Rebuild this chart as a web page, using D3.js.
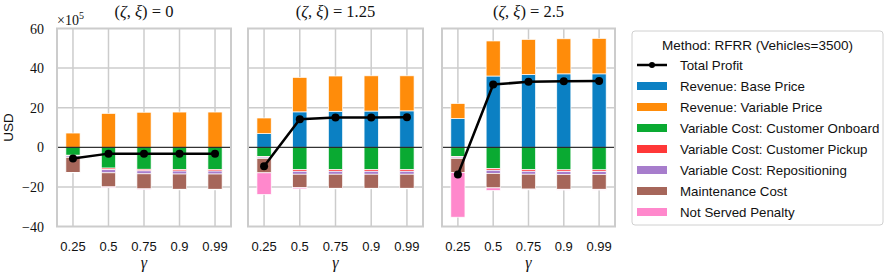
<!DOCTYPE html>
<html>
<head>
<meta charset="utf-8">
<script src="https://cdn.jsdelivr.net/npm/d3@7"></script>
<style>
  body { margin: 0; background: #fff; }
  svg text { fill: #111; }
</style>
</head>
<body>
<div id="chart"></div>
<script>
// values in units of 1e5 USD
const gammas = ["0.25", "0.5", "0.75", "0.9", "0.99"];
const panelTitles = ["0", "1.25", "2.5"];

const basePrice = [
  [0, 0, 0, 0, 0],
  [6.9, 17.9, 18.2, 18.3, 18.4],
  [14.5, 36.0, 36.8, 37.1, 37.1]
];
const variablePrice = [
  [7.2, 17.1, 17.7, 17.8, 17.8],
  [7.9, 17.4, 17.8, 17.8, 17.7],
  [7.6, 17.7, 17.7, 17.7, 17.9]
];
const costOnboard = [
  [4.0, 10.5, 11.1, 11.2, 11.2],
  [4.6, 11.3, 11.3, 11.3, 11.3],
  [4.6, 10.8, 11.3, 11.4, 11.4]
];
const costPickup = [
  [0.4, 0.8, 0.8, 0.8, 0.8],
  [0.4, 0.8, 0.8, 0.8, 0.8],
  [0.4, 0.8, 0.8, 0.8, 0.8]
];
const costRepositioning = [
  [0.7, 1.6, 1.5, 1.5, 1.5],
  [0.6, 1.5, 1.5, 1.5, 1.5],
  [0.6, 1.6, 1.5, 1.5, 1.5]
];
const maintenance = [
  [7.6, 7.1, 7.6, 7.7, 7.7],
  [7.3, 6.8, 7.1, 7.1, 7.1],
  [7.1, 7.3, 7.5, 7.5, 7.5]
];
const notServed = [
  [0.2, 0.3, 0.3, 0.3, 0.3],
  [10.9, 0.6, 0.3, 0.3, 0.3],
  [22.6, 1.3, 0.4, 0.4, 0.4]
];
const totalProfit = [
  [-5.6, -3.2, -3.2, -3.2, -3.2],
  [-9.6, 14.2, 15.0, 15.1, 15.2],
  [-13.7, 31.7, 33.1, 33.4, 33.5]
];
const yTicks = [60, 40, 20, 0, -20, -40];

const positiveSeries = [
  { name: "Revenue: Base Price", values: basePrice, color: "#0b80c3" },
  { name: "Revenue: Variable Price", values: variablePrice, color: "#ff8c0a" }
];
const negativeSeries = [
  { name: "Variable Cost: Customer Onboard", values: costOnboard, color: "#0aaa32" },
  { name: "Variable Cost: Customer Pickup", values: costPickup, color: "#ff3838" },
  { name: "Variable Cost: Repositioning", values: costRepositioning, color: "#a77dcc" },
  { name: "Maintenance Cost", values: maintenance, color: "#a6665a" },
  { name: "Not Served Penalty", values: notServed, color: "#ff88cc" }
];

const serif = "'Liberation Serif', 'DejaVu Serif', serif";
const sans = "'Liberation Sans', Arial, sans-serif";
const gridColor = "#cccccc";

const width = 886, height = 272;
const svg = d3.select("#chart").append("svg")
  .attr("width", width)
  .attr("height", height);

const panelX = [[57, 231], [248, 423], [442, 615]];
const y = d3.scaleLinear().domain([-40, 60]).range([226.5, 28.5]);

panelX.forEach(function(px, p) {
  const x = d3.scaleLinear().domain([-0.45, 4.45]).range(px);
  const barW = x(0.4) - x(0);
  const g = svg.append("g");

  // grid
  g.selectAll(".vgrid").data(gammas).enter().append("line")
    .attr("x1", (d, i) => x(i)).attr("x2", (d, i) => x(i))
    .attr("y1", y(60)).attr("y2", y(-40))
    .attr("stroke", gridColor).attr("stroke-width", 1.5);
  g.selectAll(".hgrid").data([40, 20, -20]).enter().append("line")
    .attr("x1", px[0]).attr("x2", px[1])
    .attr("y1", d => y(d)).attr("y2", d => y(d))
    .attr("stroke", gridColor).attr("stroke-width", 1.5);

  // stacked bars
  gammas.forEach(function(gm, i) {
    let top = 0;
    positiveSeries.forEach(function(s) {
      const v = s.values[p][i];
      if (v > 0) {
        g.append("rect")
          .attr("x", x(i) - barW / 2).attr("width", barW)
          .attr("y", y(top + v)).attr("height", y(top) - y(top + v))
          .attr("fill", s.color).attr("stroke", "#fff").attr("stroke-width", 0.7);
      }
      top += v;
    });
    let bottom = 0;
    negativeSeries.forEach(function(s) {
      const v = s.values[p][i];
      g.append("rect")
        .attr("x", x(i) - barW / 2).attr("width", barW)
        .attr("y", y(bottom)).attr("height", y(bottom - v) - y(bottom))
        .attr("fill", s.color).attr("stroke", "#fff").attr("stroke-width", 0.7);
      bottom -= v;
    });
  });

  // zero line
  g.append("line")
    .attr("x1", px[0]).attr("x2", px[1])
    .attr("y1", y(0)).attr("y2", y(0))
    .attr("stroke", "#000").attr("stroke-width", 1);

  // profit line
  const line = d3.line().x((d, i) => x(i)).y(d => y(d));
  g.append("path")
    .attr("d", line(totalProfit[p]))
    .attr("fill", "none").attr("stroke", "#000").attr("stroke-width", 2.5);
  g.selectAll(".dot").data(totalProfit[p]).enter().append("circle")
    .attr("cx", (d, i) => x(i)).attr("cy", d => y(d)).attr("r", 4)
    .attr("fill", "#000");

  // frame
  g.append("rect")
    .attr("x", px[0]).attr("y", y(60))
    .attr("width", px[1] - px[0]).attr("height", y(-40) - y(60))
    .attr("fill", "none").attr("stroke", gridColor).attr("stroke-width", 2);

  // x tick labels
  g.selectAll(".xt").data(gammas).enter().append("text")
    .attr("x", (d, i) => x(i)).attr("y", 251)
    .attr("text-anchor", "middle")
    .style("font-family", sans).style("font-size", "13px")
    .text(d => d);
  g.append("text")
    .attr("x", (px[0] + px[1]) / 2).attr("y", 268)
    .attr("text-anchor", "middle")
    .style("font-family", serif).style("font-size", "16px").style("font-style", "italic")
    .text("γ");

  // title
  const t = g.append("text")
    .attr("x", (px[0] + px[1]) / 2).attr("y", 17)
    .attr("text-anchor", "middle")
    .style("font-family", serif).style("font-size", "16.5px");
  t.append("tspan").text("(");
  t.append("tspan").style("font-style", "italic").text("ζ");
  t.append("tspan").text(", ");
  t.append("tspan").style("font-style", "italic").text("ξ");
  t.append("tspan").text(") = " + panelTitles[p]);
});

// y ticks
svg.selectAll(".yt").data(yTicks).enter().append("text")
  .attr("x", 44).attr("y", d => y(d) + 5)
  .attr("text-anchor", "end")
  .style("font-family", serif).style("font-size", "14px")
  .text(d => d < 0 ? "\u2212" + Math.abs(d) : d);

const mult = svg.append("text").attr("x", 57).attr("y", 25)
  .style("font-family", serif).style("font-size", "14px");
mult.append("tspan").text("×10");
mult.append("tspan").attr("dy", -6).style("font-size", "10px").text("5");

svg.append("text")
  .attr("transform", `translate(13, ${(y(60) + y(-40)) / 2}) rotate(-90)`)
  .attr("text-anchor", "middle")
  .style("font-family", sans).style("font-size", "13.5px")
  .text("USD");

// legend
const lg = svg.append("g");
lg.append("rect")
  .attr("x", 632).attr("y", 31).attr("width", 251).attr("height", 194)
  .attr("rx", 3).attr("fill", "#fff").attr("stroke", "#d0d0d0").attr("stroke-width", 1);
lg.append("text")
  .attr("x", 757.5).attr("y", 50).attr("text-anchor", "middle")
  .style("font-family", sans).style("font-size", "13.5px")
  .text("Method: RFRR (Vehicles=3500)");

const legendItems = [{ name: "Total Profit", line: true }]
  .concat(positiveSeries, negativeSeries);
legendItems.forEach(function(d, i) {
  const cy = 65 + i * 21;
  if (d.line) {
    lg.append("line").attr("x1", 637).attr("x2", 667).attr("y1", cy).attr("y2", cy)
      .attr("stroke", "#000").attr("stroke-width", 2.5);
    lg.append("circle").attr("cx", 652).attr("cy", cy).attr("r", 3).attr("fill", "#000");
  } else {
    lg.append("rect").attr("x", 637).attr("y", cy - 4).attr("width", 30).attr("height", 8)
      .attr("fill", d.color);
  }
  lg.append("text")
    .attr("x", 680).attr("y", cy + 4.5)
    .style("font-family", sans).style("font-size", "13.3px")
    .text(d.name);
});
</script>
</body>
</html>
